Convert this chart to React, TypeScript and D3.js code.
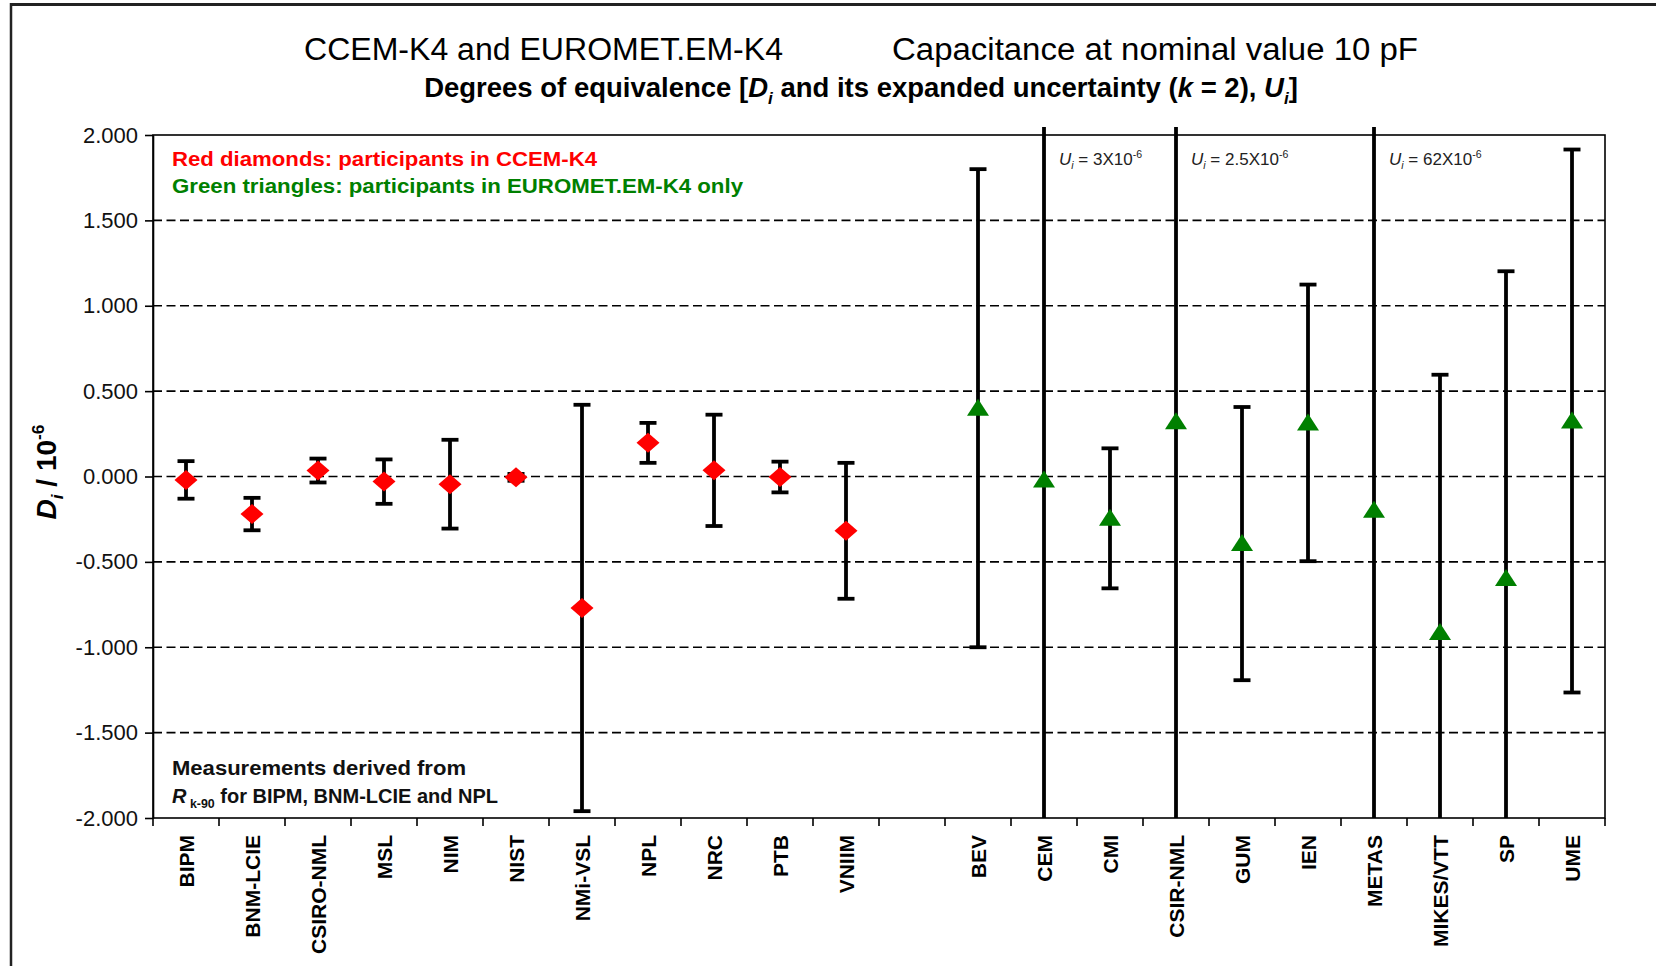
import { useEffect, useRef } from 'react';
import * as d3 from 'd3';

// x slots (one blank slot between the two groups)
const categories = [
  'BIPM', 'BNM-LCIE', 'CSIRO-NML', 'MSL', 'NIM', 'NIST', 'NMi-VSL', 'NPL', 'NRC', 'PTB', 'VNIIM',
  ' ',
  'BEV', 'CEM', 'CMI', 'CSIR-NML', 'GUM', 'IEN', 'METAS', 'MIKES/VTT', 'SP', 'UME',
];

// CCEM-K4 participants (red diamonds)
const ccemLabs = ['BIPM', 'BNM-LCIE', 'CSIRO-NML', 'MSL', 'NIM', 'NIST', 'NMi-VSL', 'NPL', 'NRC', 'PTB', 'VNIIM'];
const ccemD = [-0.02, -0.22, 0.035, -0.03, -0.045, -0.005, -0.77, 0.197, 0.036, -0.003, -0.318];
const ccemU = [0.11, 0.095, 0.07, 0.13, 0.26, 0.02, 1.19, 0.117, 0.326, 0.09, 0.398];

// EUROMET.EM-K4 only (green triangles)
const euroLabs = ['BEV', 'CEM', 'CMI', 'CSIR-NML', 'GUM', 'IEN', 'METAS', 'MIKES/VTT', 'SP', 'UME'];
const euroD = [0.40, -0.02, -0.245, 0.32, -0.393, 0.314, -0.198, -0.914, -0.598, 0.325];
const euroU = [1.40, 3, 0.41, 2.5, 0.80, 0.81, 62, 1.51, 1.80, 1.59];

// off-scale uncertainty notes
const noteLabs = ['CEM', 'CSIR-NML', 'METAS'];
const noteValues = ['3', '2.5', '62'];

const yTicks = [2, 1.5, 1, 0.5, 0, -0.5, -1, -1.5, -2];

const FONT = '"Liberation Sans", Arial, Helvetica, sans-serif';

type Part = { t: string; it?: boolean; sub?: boolean; sup?: boolean };

function addRich(text: any, parts: Part[], size: number) {
  let shift = 0;
  parts.forEach(p => {
    const target = p.sub ? size * 0.25 : p.sup ? -size * 0.42 : 0;
    const ts = text.append('tspan').attr('dy', target - shift).text(p.t);
    if (p.sub || p.sup) ts.style('font-size', `${size * 0.62}px`);
    if (p.it) ts.style('font-style', 'italic');
    shift = target;
  });
}

export default function App() {
  const svgRef = useRef<SVGSVGElement>(null);
  const width = 1656;
  const height = 966;
  const margin = { top: 135, right: 51, bottom: 148, left: 153 };
  const innerWidth = width - margin.left - margin.right;
  const innerHeight = height - margin.top - margin.bottom;

  useEffect(() => {
    if (!svgRef.current) return;
    const svg = d3.select(svgRef.current);
    svg.selectAll('*').remove();

    const xScale = d3.scaleBand<string>().domain(categories).range([0, innerWidth]).padding(0);
    const yScale = d3.scaleLinear().domain([-2, 2]).range([innerHeight, 0]);
    const cx = (c: string) => (xScale(c) ?? 0) + xScale.bandwidth() / 2;

    // outer frame
    svg.append('line').attr('x1', 10).attr('x2', width).attr('y1', 4.5).attr('y2', 4.5)
      .attr('stroke', '#222').attr('stroke-width', 3);
    svg.append('line').attr('x1', 11).attr('x2', 11).attr('y1', 3).attr('y2', height)
      .attr('stroke', '#222').attr('stroke-width', 2.5);

    // titles
    svg.append('text').attr('x', 304).attr('y', 60)
      .attr('textLength', 479).attr('lengthAdjust', 'spacingAndGlyphs')
      .style('font-family', FONT).style('font-size', '31px').style('fill', '#000')
      .text('CCEM-K4 and EUROMET.EM-K4');
    svg.append('text').attr('x', 892).attr('y', 60)
      .attr('textLength', 526).attr('lengthAdjust', 'spacingAndGlyphs')
      .style('font-family', FONT).style('font-size', '31px').style('fill', '#000')
      .text('Capacitance at nominal value 10 pF');

    const sub = svg.append('text').attr('x', 861).attr('y', 97)
      .attr('text-anchor', 'middle')
      .style('font-family', FONT).style('font-size', '27.5px').style('font-weight', 'bold');
    addRich(sub, [
      { t: 'Degrees of equivalence [' }, { t: 'D', it: true }, { t: 'i', it: true, sub: true },
      { t: '  and its expanded uncertainty (' }, { t: 'k', it: true }, { t: ' = 2), ' },
      { t: 'U', it: true }, { t: 'i', it: true, sub: true }, { t: ']' },
    ], 27.5);

    const g = svg.append('g').attr('transform', `translate(${margin.left},${margin.top})`);

    // grid lines
    g.append('g').selectAll('line')
      .data(yTicks.filter(t => Math.abs(t) < 2))
      .join('line')
      .attr('x1', 0).attr('x2', innerWidth)
      .attr('y1', d => yScale(d)).attr('y2', d => yScale(d))
      .attr('stroke', '#000').attr('stroke-width', 1.6).attr('stroke-dasharray', '9,4.5');

    // plot border
    g.append('rect').attr('x', 0).attr('y', 0).attr('width', innerWidth).attr('height', innerHeight)
      .attr('fill', 'none').attr('stroke', '#000').attr('stroke-width', 1.6);

    // y axis
    const yAxis = g.append('g')
      .call(d3.axisLeft(yScale).tickValues(yTicks).tickSize(8).tickSizeOuter(0)
        .tickFormat(d => (d as number).toFixed(3)));
    yAxis.select('.domain').attr('stroke', '#000').attr('stroke-width', 1.6);
    yAxis.selectAll('.tick line').attr('stroke', '#000').attr('stroke-width', 1.6);
    yAxis.selectAll('.tick text')
      .attr('x', -15)
      .style('font-family', FONT).style('font-size', '22px').style('fill', '#111');

    // x ticks at slot boundaries
    const bounds = categories.map(c => xScale(c) ?? 0).concat([innerWidth]);
    g.append('g').selectAll('line').data(bounds).join('line')
      .attr('x1', d => d).attr('x2', d => d)
      .attr('y1', innerHeight).attr('y2', innerHeight + 8)
      .attr('stroke', '#000').attr('stroke-width', 1.6);

    // x labels
    g.append('g').selectAll('text').data(categories.filter(c => c.trim() !== '')).join('text')
      .attr('transform', d => `translate(${cx(d)},${innerHeight + 17}) rotate(-90)`)
      .attr('text-anchor', 'end').attr('dy', '0.36em')
      .style('font-family', FONT).style('font-size', '21px').style('font-weight', 'bold')
      .style('fill', '#000')
      .text(d => d);

    // y axis title
    const yTitle = svg.append('text')
      .attr('transform', `translate(56,472) rotate(-90)`)
      .attr('text-anchor', 'middle')
      .style('font-family', FONT).style('font-size', '28px').style('font-weight', 'bold');
    addRich(yTitle, [
      { t: 'D', it: true }, { t: 'i', it: true, sub: true }, { t: ' / 10' }, { t: '-6', sup: true },
    ], 28);

    // error bars
    const bars = g.append('g');
    const drawBar = (lab: string, d: number, u: number) => {
      const x = cx(lab);
      const hi = d + u;
      const lo = d - u;
      const yTop = hi > 2 ? -8 : yScale(hi);
      const yBot = lo < -2 ? innerHeight : yScale(lo);
      bars.append('line').attr('x1', x).attr('x2', x).attr('y1', yTop).attr('y2', yBot)
        .attr('stroke', '#000').attr('stroke-width', 3.8);
      if (hi <= 2) {
        bars.append('line').attr('x1', x - 8.5).attr('x2', x + 8.5).attr('y1', yTop).attr('y2', yTop)
          .attr('stroke', '#000').attr('stroke-width', 3.8);
      }
      if (lo >= -2) {
        bars.append('line').attr('x1', x - 8.5).attr('x2', x + 8.5).attr('y1', yBot).attr('y2', yBot)
          .attr('stroke', '#000').attr('stroke-width', 3.8);
      }
    };
    ccemLabs.forEach((lab, i) => drawBar(lab, ccemD[i], ccemU[i]));
    euroLabs.forEach((lab, i) => drawBar(lab, euroD[i], euroU[i]));

    // markers
    const diamond = d3.path();
    diamond.moveTo(0, -10); diamond.lineTo(11.5, 0); diamond.lineTo(0, 10); diamond.lineTo(-11.5, 0); diamond.closePath();
    g.append('g').selectAll('path').data(ccemLabs).join('path')
      .attr('transform', (d, i) => `translate(${cx(d)},${yScale(ccemD[i])})`)
      .attr('d', diamond.toString())
      .attr('fill', '#ff0000');

    const tri = d3.path();
    tri.moveTo(0, -9.5); tri.lineTo(11, 7.5); tri.lineTo(-11, 7.5); tri.closePath();
    g.append('g').selectAll('path').data(euroLabs).join('path')
      .attr('transform', (d, i) => `translate(${cx(d)},${yScale(euroD[i])})`)
      .attr('d', tri.toString())
      .attr('fill', '#008000');

    // off-scale notes
    noteLabs.forEach((lab, i) => {
      const t = g.append('text').attr('x', cx(lab) + 15).attr('y', 30)
        .style('font-family', FONT).style('font-size', '17px').style('fill', '#222');
      addRich(t, [
        { t: 'U', it: true }, { t: 'i', it: true, sub: true }, { t: ' = ' + noteValues[i] + 'X10' },
        { t: '-6', sup: true },
      ], 17);
    });

    // legend
    g.append('text').attr('x', 19).attr('y', 31)
      .attr('textLength', 425).attr('lengthAdjust', 'spacingAndGlyphs')
      .style('font-family', FONT).style('font-size', '20px').style('font-weight', 'bold')
      .style('fill', '#ff0000')
      .text('Red diamonds: participants in CCEM-K4');
    g.append('text').attr('x', 19).attr('y', 58)
      .attr('textLength', 571).attr('lengthAdjust', 'spacingAndGlyphs')
      .style('font-family', FONT).style('font-size', '20px').style('font-weight', 'bold')
      .style('fill', '#008000')
      .text('Green triangles: participants in EUROMET.EM-K4 only');

    // bottom note
    g.append('text').attr('x', 19).attr('y', innerHeight - 43)
      .attr('textLength', 294).attr('lengthAdjust', 'spacingAndGlyphs')
      .style('font-family', FONT).style('font-size', '20px').style('font-weight', 'bold')
      .style('fill', '#111')
      .text('Measurements derived from');
    const note2 = g.append('text').attr('x', 19).attr('y', innerHeight - 15)
      .style('font-family', FONT).style('font-size', '20px').style('font-weight', 'bold')
      .style('fill', '#111');
    addRich(note2, [
      { t: 'R', it: true }, { t: ' k-90', sub: true }, { t: ' for BIPM, BNM-LCIE and NPL' },
    ], 20);
  }, [innerWidth, innerHeight]);

  return (
    <svg
      ref={svgRef}
      width={width}
      height={height}
      viewBox={`0 0 ${width} ${height}`}
      style={{ position: 'absolute', left: 0, top: 0, background: '#fff' }}
    />
  );
}
